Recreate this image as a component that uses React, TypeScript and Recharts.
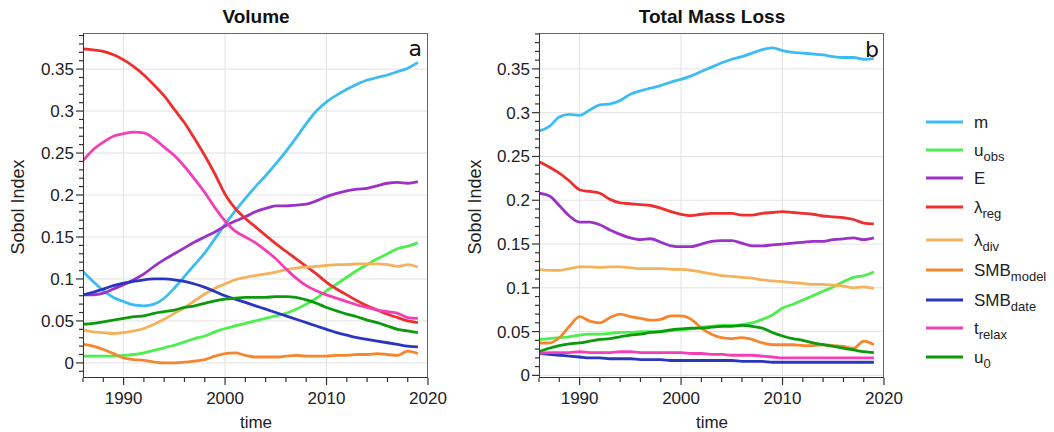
import React from "react";
import { CartesianGrid, Line, LineChart, XAxis, YAxis } from "recharts";

const years = [
  1986, 1987, 1988, 1989, 1990, 1991, 1992, 1993, 1994, 1995, 1996, 1997,
  1998, 1999, 2000, 2001, 2002, 2003, 2004, 2005, 2006, 2007, 2008, 2009,
  2010, 2011, 2012, 2013, 2014, 2015, 2016, 2017, 2018, 2019,
];

const seriesKeys = ["m", "uobs", "E", "lreg", "ldiv", "smbModel", "smbDate", "trelax", "u0"];
const seriesColors = ["#3dbcf2", "#4cef4c", "#9a32c8", "#ee2f2f", "#f4b25a", "#f6862e", "#2b36c0", "#f23fb6", "#0c9a0c"];
const legendLabels: { main: string; sub?: string }[] = [
  { main: "m" },
  { main: "u", sub: "obs" },
  { main: "E" },
  { main: "λ", sub: "reg" },
  { main: "λ", sub: "div" },
  { main: "SMB", sub: "model" },
  { main: "SMB", sub: "date" },
  { main: "t", sub: "relax" },
  { main: "u", sub: "0" },
];

// Volume panel
const volM = [0.109, 0.097, 0.086, 0.078, 0.073, 0.069, 0.068, 0.07, 0.077, 0.089, 0.103, 0.117, 0.131, 0.148, 0.165, 0.181, 0.196, 0.21, 0.223, 0.237, 0.252, 0.268, 0.285, 0.3, 0.311, 0.319, 0.326, 0.332, 0.337, 0.34, 0.343, 0.347, 0.351, 0.358];
const volUobs = [0.008, 0.008, 0.008, 0.008, 0.009, 0.01, 0.012, 0.015, 0.018, 0.021, 0.025, 0.029, 0.032, 0.037, 0.041, 0.044, 0.047, 0.05, 0.053, 0.056, 0.059, 0.064, 0.07, 0.077, 0.086, 0.094, 0.102, 0.11, 0.117, 0.124, 0.13, 0.136, 0.139, 0.143];
const volE = [0.081, 0.081, 0.083, 0.088, 0.093, 0.099, 0.106, 0.115, 0.123, 0.13, 0.137, 0.144, 0.15, 0.156, 0.163, 0.169, 0.174, 0.18, 0.184, 0.187, 0.187, 0.188, 0.189, 0.193, 0.198, 0.202, 0.205, 0.207, 0.208, 0.211, 0.214, 0.215, 0.214, 0.216];
const volLreg = [0.374, 0.373, 0.371, 0.367, 0.361, 0.353, 0.343, 0.331, 0.318, 0.302, 0.286, 0.267, 0.247, 0.225, 0.201, 0.184, 0.172, 0.162, 0.152, 0.142, 0.133, 0.124, 0.115, 0.106, 0.096, 0.088, 0.081, 0.074, 0.068, 0.063, 0.058, 0.054, 0.05, 0.048];
const volLdiv = [0.039, 0.037, 0.036, 0.035, 0.036, 0.038, 0.041, 0.046, 0.052, 0.059, 0.066, 0.074, 0.082, 0.089, 0.094, 0.099, 0.102, 0.104, 0.106, 0.108, 0.111, 0.113, 0.114, 0.115, 0.116, 0.117, 0.117, 0.118, 0.118, 0.118, 0.117, 0.115, 0.117, 0.114];
const volSmbModel = [0.022, 0.02, 0.016, 0.011, 0.006, 0.004, 0.003, 0.001, 0.0, 0.0, 0.001, 0.002, 0.004, 0.008, 0.011, 0.012, 0.009, 0.007, 0.007, 0.007, 0.008, 0.009, 0.008, 0.008, 0.008, 0.009, 0.009, 0.01, 0.01, 0.011, 0.01, 0.009, 0.014, 0.011];
const volSmbDate = [0.081, 0.084, 0.088, 0.092, 0.095, 0.097, 0.099, 0.1, 0.1, 0.099, 0.097, 0.094, 0.09, 0.085, 0.08, 0.076, 0.072, 0.068, 0.064, 0.06, 0.056, 0.052, 0.048, 0.044, 0.04, 0.036, 0.033, 0.03, 0.028, 0.026, 0.024, 0.022, 0.02, 0.019];
const volTrelax = [0.241, 0.254, 0.263, 0.27, 0.273, 0.275, 0.274, 0.267, 0.257, 0.247, 0.234, 0.219, 0.203, 0.185, 0.169, 0.157, 0.15, 0.143, 0.134, 0.124, 0.112, 0.101, 0.092, 0.086, 0.081, 0.077, 0.073, 0.069, 0.066, 0.063, 0.061, 0.059, 0.054, 0.053];
const volU0 = [0.046, 0.047, 0.049, 0.051, 0.053, 0.055, 0.056, 0.059, 0.061, 0.063, 0.066, 0.068, 0.071, 0.074, 0.076, 0.077, 0.078, 0.078, 0.078, 0.079, 0.079, 0.078, 0.075, 0.071, 0.066, 0.062, 0.058, 0.055, 0.051, 0.048, 0.044, 0.04, 0.038, 0.036];

// Total Mass Loss panel
const mlM = [0.279, 0.284, 0.295, 0.298, 0.297, 0.303, 0.309, 0.31, 0.314, 0.321, 0.325, 0.328, 0.331, 0.335, 0.338, 0.342, 0.347, 0.352, 0.357, 0.361, 0.364, 0.368, 0.372, 0.374, 0.371, 0.369, 0.368, 0.367, 0.366, 0.364, 0.363, 0.363, 0.361, 0.362];
const mlUobs = [0.041, 0.042, 0.043, 0.044, 0.046, 0.047, 0.047, 0.048, 0.049, 0.049, 0.05, 0.05, 0.05, 0.051, 0.052, 0.053, 0.055, 0.056, 0.057, 0.057, 0.058, 0.06, 0.064, 0.069, 0.077, 0.081, 0.086, 0.091, 0.096, 0.101, 0.107, 0.112, 0.114, 0.118];
const mlE = [0.208, 0.205, 0.194, 0.182, 0.175, 0.175, 0.172, 0.166, 0.161, 0.157, 0.155, 0.156, 0.152, 0.148, 0.147, 0.147, 0.15, 0.153, 0.154, 0.154, 0.151, 0.148, 0.148, 0.149, 0.15, 0.151, 0.152, 0.153, 0.153, 0.155, 0.156, 0.157, 0.155, 0.157];
const mlLreg = [0.244, 0.238, 0.231, 0.222, 0.212, 0.21, 0.208, 0.201, 0.197, 0.196, 0.195, 0.194, 0.191, 0.187, 0.184, 0.1825, 0.184, 0.185, 0.185, 0.185, 0.183, 0.183, 0.185, 0.186, 0.187, 0.186, 0.185, 0.184, 0.182, 0.181, 0.18, 0.178, 0.174, 0.173];
const mlLdiv = [0.121, 0.12, 0.12, 0.122, 0.124, 0.124, 0.123, 0.124, 0.124, 0.123, 0.122, 0.122, 0.122, 0.121, 0.121, 0.12, 0.118, 0.116, 0.114, 0.113, 0.112, 0.111, 0.109, 0.108, 0.107, 0.106, 0.105, 0.104, 0.104, 0.103, 0.102, 0.1, 0.101, 0.099];
const mlSmbModel = [0.037, 0.037, 0.043, 0.056, 0.067, 0.062, 0.06, 0.066, 0.07, 0.067, 0.065, 0.063, 0.064, 0.068, 0.068, 0.064, 0.054, 0.047, 0.043, 0.042, 0.043, 0.041, 0.037, 0.035, 0.035, 0.035, 0.034, 0.034, 0.035, 0.034, 0.033, 0.031, 0.039, 0.035];
const mlSmbDate = [0.025, 0.024, 0.023, 0.022, 0.021, 0.02, 0.02, 0.019, 0.019, 0.019, 0.018, 0.018, 0.018, 0.017, 0.017, 0.017, 0.017, 0.017, 0.017, 0.017, 0.016, 0.016, 0.016, 0.015, 0.015, 0.015, 0.015, 0.015, 0.015, 0.015, 0.015, 0.015, 0.015, 0.015];
const mlTrelax = [0.025, 0.026, 0.026, 0.026, 0.027, 0.026, 0.026, 0.026, 0.027, 0.027, 0.026, 0.026, 0.026, 0.026, 0.026, 0.025, 0.025, 0.024, 0.024, 0.023, 0.023, 0.023, 0.022, 0.021, 0.02, 0.02, 0.02, 0.02, 0.02, 0.02, 0.02, 0.02, 0.02, 0.02];
const mlU0 = [0.027, 0.031, 0.034, 0.036, 0.037, 0.039, 0.041, 0.042, 0.044, 0.046, 0.047, 0.049, 0.05, 0.052, 0.053, 0.054, 0.054, 0.055, 0.056, 0.056, 0.057, 0.056, 0.054, 0.049, 0.045, 0.042, 0.04, 0.037, 0.035, 0.033, 0.031, 0.029, 0.027, 0.026];

const yMajorTicks = [0, 0.05, 0.1, 0.15, 0.2, 0.25, 0.3, 0.35];
const yTickLabels = ["0", "0.05", "0.1", "0.15", "0.2", "0.25", "0.3", "0.35"];
const xMajorTicks = [1990, 2000, 2010, 2020];
const xTickLabels = ["1990", "2000", "2010", "2020"];

const FONT = "'Liberation Sans', Arial, sans-serif";

function buildRows(cols: number[][]) {
  return years.map((year, i) => {
    const row: Record<string, number> = { year };
    seriesKeys.forEach((k, j) => {
      row[k] = cols[j][i];
    });
    return row;
  });
}

const volumeRows = buildRows([volM, volUobs, volE, volLreg, volLdiv, volSmbModel, volSmbDate, volTrelax, volU0]);
const massRows = buildRows([mlM, mlUobs, mlE, mlLreg, mlLdiv, mlSmbModel, mlSmbDate, mlTrelax, mlU0]);

// minor ticks every 0.01 on y, every 2 years on x
const yMinorTicks: number[] = [];
for (let i = -1; i <= 39; i++) yMinorTicks.push(i / 100);
const xMinorTicks: number[] = [];
for (let yr = 1986; yr <= 2020; yr += 2) xMinorTicks.push(yr);

const YTick = (props: any) => {
  const { x, y, payload } = props;
  const idx = yMajorTicks.indexOf(payload.value);
  const major = idx >= 0;
  return (
    <g>
      <line x1={x} x2={x - (major ? 7 : 4)} y1={y} y2={y} stroke="#333" strokeWidth={1.2} />
      {major && (
        <text x={x - 9} y={y + 6} textAnchor="end" fontSize={17} fontFamily={FONT} fill="#222">
          {yTickLabels[idx]}
        </text>
      )}
    </g>
  );
};

const XTick = (props: any) => {
  const { x, y, payload } = props;
  const idx = xMajorTicks.indexOf(payload.value);
  const major = idx >= 0;
  return (
    <g>
      <line x1={x} x2={x} y1={y} y2={y + (major ? 7 : 4)} stroke="#333" strokeWidth={1.2} />
      {major && (
        <text x={x} y={y + 26} textAnchor="middle" fontSize={17} fontFamily={FONT} fill="#222">
          {xTickLabels[idx]}
        </text>
      )}
    </g>
  );
};

function Panel({ rows, left, yDomain }: { rows: any[]; left: number; yDomain: [number, number] }) {
  return (
    <div style={{ position: "absolute", left, top: 0, width: 450, height: 432 }}>
      <LineChart width={450} height={432} data={rows} margin={{ top: 33, right: 22, bottom: 24, left: 33 }}>
        <CartesianGrid
          stroke="#e2e2e2"
          strokeWidth={1}
          horizontalValues={yMajorTicks}
          verticalValues={[1990, 2000, 2010]}
        />
        <XAxis
          dataKey="year"
          type="number"
          domain={[1986, 2020]}
          allowDataOverflow
          ticks={xMinorTicks}
          interval={0}
          height={30}
          tickSize={0}
          tickMargin={0}
          tickLine={false}
          axisLine={false}
          tick={<XTick />}
        />
        <YAxis
          type="number"
          domain={yDomain}
          allowDataOverflow
          ticks={yMinorTicks.filter((t) => t >= yDomain[0] && t <= yDomain[1])}
          interval={0}
          width={50}
          tickSize={0}
          tickMargin={0}
          tickLine={false}
          axisLine={false}
          tick={<YTick />}
        />
        {seriesKeys.map((k, i) => (
          <Line
            key={k}
            dataKey={k}
            type="monotone"
            stroke={seriesColors[i]}
            strokeWidth={2.8}
            dot={false}
            isAnimationActive={false}
          />
        ))}
      </LineChart>
      <div
        style={{
          position: "absolute",
          left: 83,
          top: 33,
          width: 345,
          height: 345,
          boxSizing: "border-box",
          borderTop: "1.2px solid #666",
          borderRight: "1.2px solid #666",
          borderLeft: "1.5px solid #333",
          borderBottom: "1.5px solid #333",
          pointerEvents: "none",
        }}
      />
    </div>
  );
}

const legendY = [122, 150, 178, 207, 240, 270, 300, 328, 357];

export default function App() {
  return (
    <div style={{ position: "absolute", left: 0, top: 0, width: 1054, height: 432, background: "#fff", fontFamily: FONT }}>
      <Panel rows={volumeRows} left={0} yDomain={[-0.018, 0.393]} />
      <Panel rows={massRows} left={456} yDomain={[-0.003, 0.391]} />
      <svg width={1054} height={432} style={{ position: "absolute", left: 0, top: 0, pointerEvents: "none" }} fontFamily={FONT}>
        <text x={256} y={23} textAnchor="middle" fontSize={19} fontWeight="bold" fill="#111">Volume</text>
        <text x={712} y={23} textAnchor="middle" fontSize={19} fontWeight="bold" fill="#111">Total Mass Loss</text>
        <text x={256} y={428} textAnchor="middle" fontSize={17} fill="#222">time</text>
        <text x={712} y={428} textAnchor="middle" fontSize={17} fill="#222">time</text>
        <text x={24} y={207} textAnchor="middle" fontSize={18} fill="#222" transform="rotate(-90 24 207)">Sobol Index</text>
        <text x={481} y={207} textAnchor="middle" fontSize={18} fill="#222" transform="rotate(-90 481 207)">Sobol Index</text>
        <text x={422} y={56} textAnchor="end" fontSize={22} fontFamily="'DejaVu Sans', sans-serif" fill="#111">a</text>
        <text x={879} y={57} textAnchor="end" fontSize={22} fontFamily="'DejaVu Sans', sans-serif" fill="#111">b</text>
        {legendLabels.map((lab, i) => (
          <g key={i}>
            <line x1={926} x2={963} y1={legendY[i]} y2={legendY[i]} stroke={seriesColors[i]} strokeWidth={3} />
            <text x={974} y={legendY[i] + 6} fontSize={17} fill="#222">
              {lab.main}
              {lab.sub && (
                <tspan fontSize={13} dy={5}>
                  {lab.sub}
                </tspan>
              )}
            </text>
          </g>
        ))}
      </svg>
    </div>
  );
}
